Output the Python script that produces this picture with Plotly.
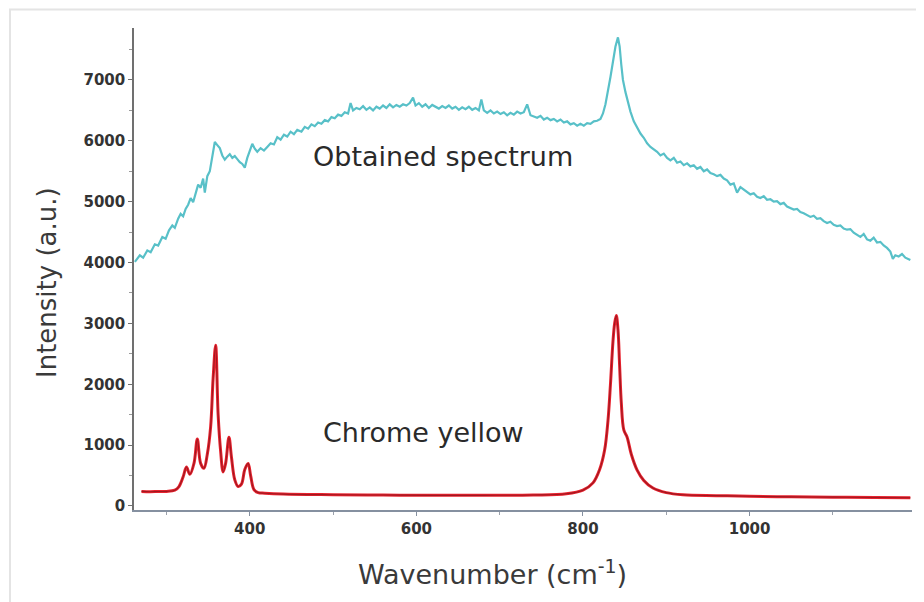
import plotly.graph_objects as go

# Obtained spectrum (cyan)
obtained_w = [262, 268, 272, 277, 281, 286, 290, 295, 299, 303, 307, 310, 314, 317, 320, 323, 326, 329, 332, 335,
              338, 341, 344, 346, 349, 352, 355, 358, 361, 364, 367, 370, 373, 376, 379, 382, 385, 388, 391, 394,
              397, 400, 403, 406, 409, 413, 417, 421, 425, 429, 433, 437, 441, 445, 449, 453, 457, 462, 466, 470,
              474, 478, 482, 486, 490, 494, 498, 502, 506, 510, 514, 518, 521, 524, 528, 532, 536, 540, 544, 548,
              552, 556, 560, 564, 568, 572, 576, 580, 584, 588, 592, 596, 599, 603, 607, 611, 615, 619, 623, 627,
              631, 635, 639, 643, 647, 651, 655, 659, 663, 667, 671, 675, 678, 681, 685, 689, 693, 697, 701, 705,
              709, 713, 717, 721, 725, 729, 733, 737, 741, 745, 749, 753, 757, 761, 765, 769, 773, 777, 781, 785,
              789, 793, 797, 801, 805, 809, 813, 817, 821, 824, 827, 830, 833, 836, 839, 842, 844, 846, 848, 851,
              854, 857, 861, 865, 869, 873, 877, 881, 885, 889, 893, 897, 901, 905, 909, 913, 917, 921, 925, 929,
              933, 937, 941, 945, 949, 953, 957, 961, 965, 969, 973, 977, 981, 985, 989, 993, 997, 1001, 1005, 1009,
              1013, 1017, 1021, 1025, 1029, 1033, 1037, 1041, 1045, 1049, 1053, 1057, 1061, 1065, 1069, 1073, 1077,
              1081, 1085, 1089, 1093, 1097, 1101, 1105, 1109, 1113, 1117, 1121, 1125, 1129, 1133, 1137, 1141, 1145,
              1149, 1153, 1157, 1161, 1165, 1169, 1172, 1175, 1179, 1183, 1187, 1193]
obtained_i = [4010, 4120, 4080, 4200, 4170, 4300, 4280, 4420, 4390, 4530, 4610, 4570, 4720, 4800, 4760, 4880, 4950, 5060, 4990, 5150,
              5280, 5230, 5380, 5150, 5420, 5500, 5760, 5980, 5930, 5880, 5760, 5690, 5740, 5780, 5720, 5750, 5700, 5650, 5620, 5560,
              5720, 5820, 5950, 5870, 5820, 5880, 5840, 5900, 5960, 5940, 6060, 6020, 6100, 6070, 6150, 6110, 6180, 6150, 6230, 6200,
              6270, 6240, 6300, 6280, 6340, 6320, 6390, 6370, 6430, 6410, 6470, 6450, 6620, 6500, 6540, 6520, 6570, 6510, 6550, 6500,
              6560, 6530, 6580, 6540, 6600, 6550, 6590, 6560, 6600, 6580, 6620, 6710, 6580, 6620, 6560, 6600, 6540, 6590, 6560, 6530,
              6570, 6540, 6580, 6530, 6560, 6510, 6550, 6520, 6560, 6510, 6540, 6500, 6680, 6500, 6460, 6500, 6450, 6480, 6440, 6470,
              6420, 6460, 6430, 6480, 6450, 6470, 6600, 6420, 6400, 6380, 6410, 6350, 6380, 6340, 6360, 6320, 6350, 6300, 6320, 6270,
              6290, 6250, 6280, 6250, 6290, 6280, 6320, 6330, 6360, 6450, 6600, 6800, 7050, 7300, 7550, 7700, 7550, 7250, 7000, 6800,
              6620, 6480, 6320, 6220, 6120, 6050, 5960, 5900, 5860, 5820, 5760, 5790, 5720, 5680, 5720, 5640, 5660, 5600, 5630, 5580,
              5600, 5540, 5570, 5500, 5530, 5470, 5450, 5420, 5440, 5380, 5350, 5280, 5300, 5150, 5240, 5200, 5170, 5120, 5140, 5080,
              5060, 5090, 5030, 5040, 5000, 5010, 4960, 4980, 4920, 4900, 4870, 4880, 4830, 4810, 4780, 4750, 4770,
              4720, 4730, 4680, 4650, 4670, 4620, 4600, 4610, 4560, 4540, 4550, 4490, 4460, 4420, 4470, 4380, 4360,
              4410, 4330, 4340, 4280, 4240, 4180, 4060, 4120, 4100, 4140, 4080, 4040]

# Chrome yellow reference spectrum (red)
chrome_w = [270, 280, 290, 300, 310, 315, 320, 324, 328, 333, 337, 341, 345, 349, 353, 356, 359, 362, 365, 368,
            371, 375, 378, 382, 386, 390, 394, 398, 401, 405, 410, 418, 440, 500, 560, 620, 680, 740, 780, 800,
            812, 820, 826, 830, 833, 836, 838, 840, 842, 844, 846, 849, 853, 858, 865, 873, 884, 900, 920, 960,
            1000, 1050, 1100, 1150, 1193]
chrome_i = [240, 235, 238, 240, 260, 320, 480, 640, 520, 700, 1100, 700, 620, 850, 1300, 2100, 2640, 1500, 900, 560,
            700, 1130, 800, 430, 320, 360, 600, 700, 500, 270, 220, 210, 195, 185, 180, 175, 175, 180, 200, 260,
            380, 600, 920, 1400, 2000, 2700, 3000, 3130, 2900, 2300, 1700, 1250, 1130, 850, 590, 420, 295, 220, 185, 170,
            160, 150, 145, 140, 135]

x_ticks = [400, 600, 800, 1000]
y_ticks = [0, 1000, 2000, 3000, 4000, 5000, 6000, 7000]

labels = ["Obtained spectrum", "Chrome yellow"]
label_pos_x = [632, 609]
label_pos_y = [5750, 1200]

# page offset: the html body adds 8px around the figure
OFF = 8
L, R, T, B = 134 - OFF, 912 - OFF, 28 - OFF, 510 - OFF
W, H = 924 - OFF, 602 - OFF
PW, PH = R - L, B - T


def px(xs):
    return (xs - OFF - L) / PW


def py(ys):
    return (B - (ys - OFF)) / PH


fig = go.Figure()
fig.add_trace(go.Scatter(x=obtained_w, y=obtained_i, mode="lines", name="Obtained spectrum",
                         line=dict(color="#58c0c8", width=2.2), showlegend=False))
fig.add_trace(go.Scatter(x=chrome_w, y=chrome_i, mode="lines", name="Chrome yellow",
                         line=dict(color="#e8222e", width=3), showlegend=False, line_shape="spline"))
fig.add_trace(go.Scatter(x=chrome_w, y=chrome_i, mode="lines", name="Chrome yellow core",
                         line=dict(color="#9e1820", width=1.1), showlegend=False, line_shape="spline",
                         hoverinfo="skip"))

for t, lx, ly in zip(labels, label_pos_x, label_pos_y):
    fig.add_annotation(x=lx, y=ly, text=t, showarrow=False, xanchor="center", yanchor="middle",
                       font=dict(family="DejaVu Sans", size=27, color="#2a2a2a"))

# axis titles placed as paper annotations
fig.add_annotation(xref="paper", yref="paper", x=px(492), y=py(572),
                   text="Wavenumber (cm<sup>-1</sup>)", showarrow=False, xanchor="center", yanchor="middle",
                   font=dict(family="DejaVu Sans", size=27, color="#3a3a3a"))
fig.add_annotation(xref="paper", yref="paper", x=px(47), y=py(283),
                   text="Intensity (a.u.)", textangle=-90, showarrow=False, xanchor="center", yanchor="middle",
                   font=dict(family="DejaVu Sans", size=26, color="#3a3a3a"))

# light image frame
fig.add_shape(type="rect", xref="paper", yref="paper",
              x0=px(10), x1=px(920), y0=py(612), y1=py(9.5),
              line=dict(color="#e4e4e4", width=2), fillcolor="rgba(0,0,0,0)", layer="below")

fig.update_layout(
    width=W, height=H,
    margin=dict(l=L, r=W - R, t=T, b=H - B),
    paper_bgcolor="white", plot_bgcolor="white",
    showlegend=False,
    xaxis=dict(range=[261, 1195], tickvals=x_ticks, ticktext=[str(v) for v in x_ticks],
               showgrid=False, zeroline=False, showline=True, linecolor="#8590a0", linewidth=1.5,
               ticks="outside", ticklen=4, tickcolor="#8590a0",
               minor=dict(tickvals=[300, 500, 700, 900, 1100], ticks="outside", ticklen=3, tickcolor="#9aa0aa"),
               tickfont=dict(family="DejaVu Sans", size=15, color="#333333", weight="bold")),
    yaxis=dict(range=[-66, 7854], tickvals=y_ticks, ticktext=[str(v) for v in y_ticks],
               showgrid=False, zeroline=False, showline=True, linecolor="#707070", linewidth=1.5,
               ticks="outside", ticklen=4, tickcolor="#707070",
               minor=dict(tickvals=[500, 1500, 2500, 3500, 4500, 5500, 6500, 7500], ticks="outside",
                          ticklen=3, tickcolor="#999999"),
               tickfont=dict(family="DejaVu Sans", size=15, color="#333333", weight="bold")),
)

fig.write_html("out.html")
